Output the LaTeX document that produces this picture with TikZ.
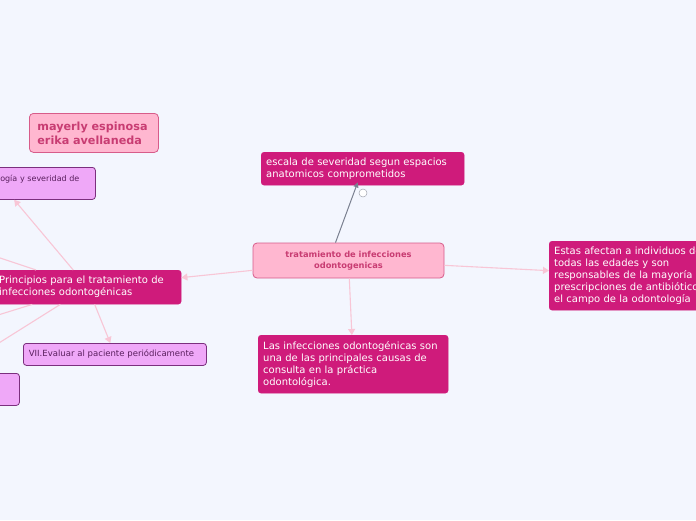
\documentclass[tikz,border=0pt]{standalone}
\usepackage{fontspec}
\setmainfont{DejaVu Sans}
\usetikzlibrary{arrows.meta, positioning}
\definecolor{mapbg}{HTML}{F3F6FE}
\definecolor{topicfill}{HTML}{CF1B7B}
\definecolor{mainfill}{HTML}{FFB7D0}
\definecolor{mainline}{HTML}{D75C8A}
\definecolor{maintext}{HTML}{C83C72}
\definecolor{notefill}{HTML}{EFA8F8}
\definecolor{noteline}{HTML}{7B2F7E}
\definecolor{notetext}{HTML}{5A1F5E}
\definecolor{linkpink}{HTML}{F8C6D6}
\definecolor{linkgray}{HTML}{7A8090}
\tikzset{
  linkarr/.style={-{Triangle[length=6pt,width=7pt]}, draw=linkpink, line width=1.1pt},
  linkline/.style={draw=linkpink, line width=1.1pt},
  grayarr/.style={-{Triangle[length=5pt,width=5pt]}, draw=linkgray, line width=1pt},
  topicbox/.style={draw=topicfill, fill=topicfill, text=white, rounded corners=3pt,
                   align=left, anchor=north west, inner xsep=5pt, inner ysep=4pt,
                   font=\fontsize{10}{12}\selectfont},
  mainbox/.style={draw=mainline, fill=mainfill, text=maintext, rounded corners=4pt,
                  align=center, line width=0.8pt, font=\fontsize{8.3}{11}\selectfont\bfseries},
  namebox/.style={draw=mainline, fill=mainfill, text=maintext, rounded corners=4pt,
                  align=left, anchor=north west, inner xsep=8pt, line width=0.8pt,
                  font=\fontsize{11.2}{14}\selectfont\bfseries},
  notebox/.style={draw=noteline, fill=notefill, text=notetext, rounded corners=3pt,
                  line width=0.8pt, anchor=north west, inner xsep=8pt,
                  font=\fontsize{8}{11}\selectfont},
}
\begin{document}
\begin{tikzpicture}[x=1pt, y=-1pt]
  \fill[mapbg] (0,0) rectangle (696,520);
  \useasboundingbox (0,0) rectangle (696,520);
  \clip (0,0) rectangle (696,520);

  % central topic
  \node[mainbox, minimum width=191pt, minimum height=35pt] (main) at (348.5,260.5)
    {tratamiento de infecciones\\odontogenicas};

  % main branches
  \node[topicbox, text width=193pt, minimum height=33pt] (escala) at (261,152)
    {escala de severidad segun espacios\\anatomicos comprometidos};
  \node[topicbox, text width=180pt, minimum height=58pt] (causas) at (258,335)
    {Las infecciones odontogénicas son\\una de las principales causas de\\consulta en la práctica\\odontológica.};
  \node[topicbox, text width=190pt, minimum height=69pt] (afectan) at (549,241)
    {Estas afectan a individuos de\\todas las edades y son\\responsables de la mayoría de\\prescripciones de antibióticos en\\el campo de la odontología};
  \node[topicbox, text width=177pt, minimum height=34pt] (princ) at (-6,270)
    {Principios para el tratamiento de\\infecciones odontogénicas};

  % authors
  \node[namebox, text width=113pt, minimum height=39pt] (autores) at (29,113)
    {mayerly espinosa\\erika avellaneda};

  % sub-branches
  \node[notebox, text width=158pt, align=right, minimum height=32pt, inner xsep=16pt] (etiol) at (-95,167)
    {ogía y severidad de\\~};
  \node[notebox, font=\fontsize{8.5}{11}\selectfont, text width=172pt, align=left,
        minimum height=22pt, inner xsep=5.5pt] (evaluar) at (23,343)
    {VII.Evaluar al paciente periódicamente};
  \node[notebox, minimum width=29pt, minimum height=32pt] (extra) at (-10,373) {};

  \coordinate (o1) at (-60,238);
  \coordinate (o2) at (-60,333);
  \coordinate (o3) at (-60,380);
  \node[circle, draw=linkgray!70, fill=white, line width=0.5pt, inner sep=0pt,
        minimum size=8pt] (fold) at (363,193) {};

  % connectors
  \draw[grayarr] ([xshift=-13pt]main.north) -- ([xshift=-5pt, yshift=3pt]escala.south);
  \draw[linkarr] (main) -- (afectan);
  \draw[linkarr] (main) -- (causas);
  \draw[linkarr] (main) -- (princ);
  \draw[linkarr] (princ) -- (etiol);
  \draw[linkarr] (princ) -- (evaluar);
  \foreach \t in {o1, o2, o3} {
    \draw[linkline] (princ) -- (\t);
  }
\end{tikzpicture}
\end{document}
